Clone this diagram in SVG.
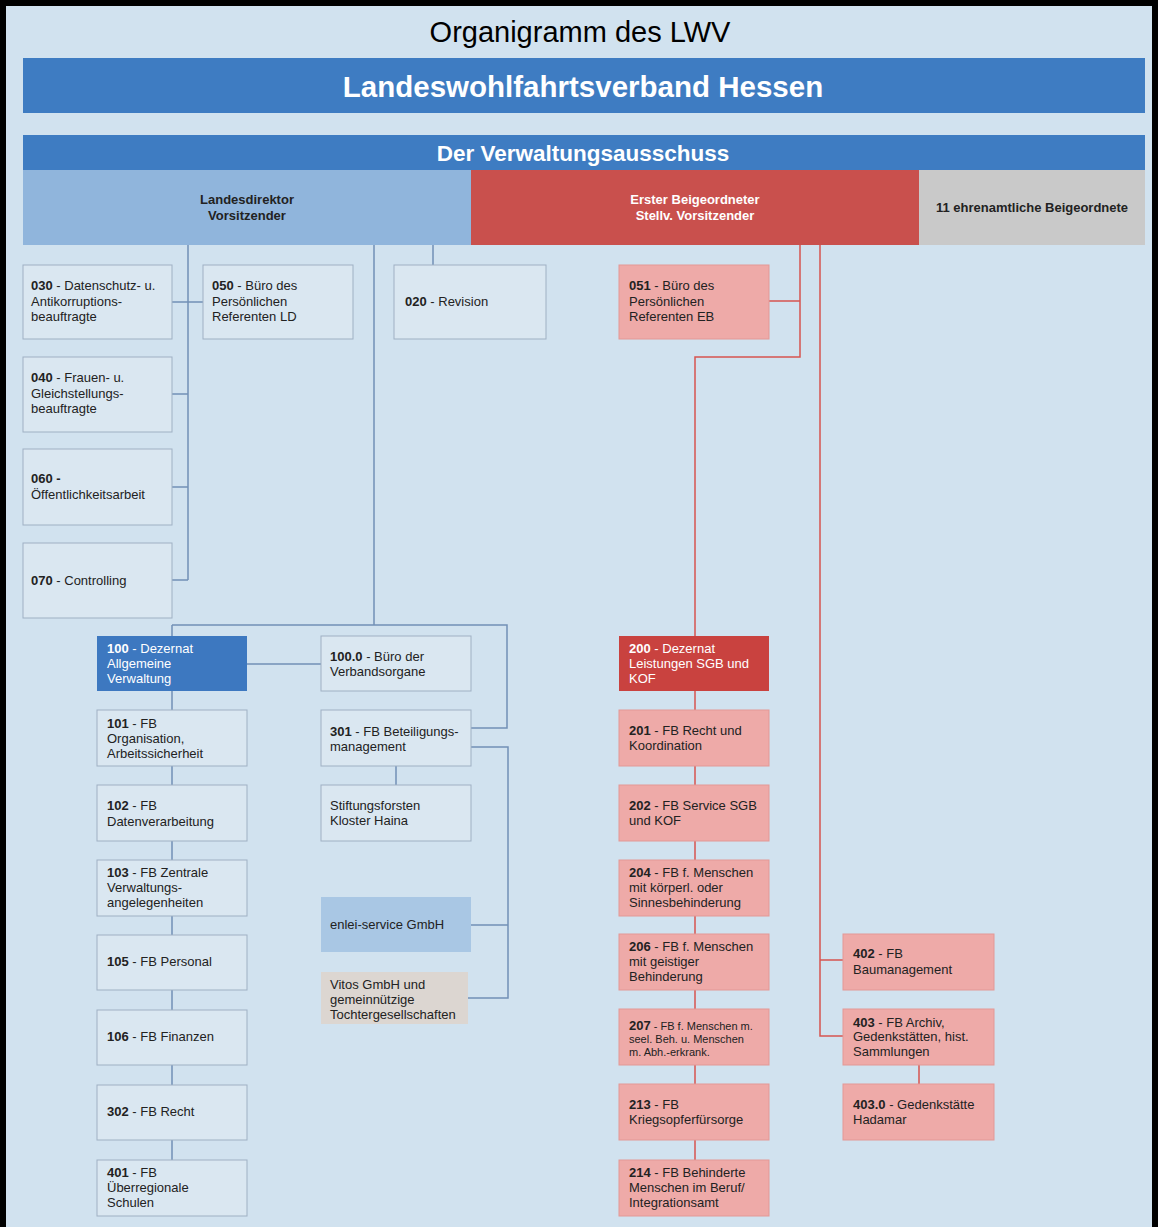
<svg xmlns="http://www.w3.org/2000/svg" width="1158" height="1227" viewBox="0 0 1158 1227">
<style>
.box{fill:#dae7f1;stroke:#9fb0c3;stroke-width:1}
.pink{fill:#eeaaa8;stroke:#e39896;stroke-width:1}
.t{font-family:"Liberation Sans",Arial,sans-serif;font-size:13px;fill:#222}
.s{font-size:11px}
.b{font-weight:bold}
.w{fill:#fff}
.cb{stroke:#7290b6;stroke-width:1.5;fill:none}
.cr{stroke:#d65450;stroke-width:1.5;fill:none}
</style>
<rect x="3" y="3" width="1152" height="1240" fill="#d1e2ef" stroke="#000" stroke-width="6"/>
<text x="580" y="42" text-anchor="middle" font-family="Liberation Sans, Arial, sans-serif" font-size="29" fill="#000">Organigramm des LWV</text>

<g id="lwv">
<rect x="23" y="58" width="1122" height="55" fill="#3e7cc2"/>
<text x="583" y="97" text-anchor="middle" font-family="Liberation Sans, Arial, sans-serif" font-size="29.5" font-weight="bold" fill="#fff">Landeswohlfahrtsverband Hessen</text>
</g>
<g id="va">
<rect x="23" y="135" width="1122" height="35" fill="#3e7cc2"/>
<text x="583" y="161" text-anchor="middle" font-family="Liberation Sans, Arial, sans-serif" font-size="22.5" font-weight="bold" fill="#fff">Der Verwaltungsausschuss</text>
</g>
<g id="ld">
<rect x="23" y="170" width="448" height="75" fill="#90b5dc"/>
<text class="t b" text-anchor="middle"><tspan x="247" y="204">Landesdirektor</tspan><tspan x="247" y="220">Vorsitzender</tspan></text>
</g>
<g id="eb">
<rect x="471" y="170" width="448" height="75" fill="#c9504d"/>
<text class="t b w" text-anchor="middle"><tspan x="695" y="204">Erster Beigeordneter</tspan><tspan x="695" y="220">Stellv. Vorsitzender</tspan></text>
</g>
<g id="ehr">
<rect x="919" y="170" width="226" height="75" fill="#c9c9c9"/>
<text class="t b" x="1032" y="212" text-anchor="middle" font-size="13.5">11 ehrenamtliche Beigeordnete</text>
</g>

<g id="connectors">
<path class="cb" d="M188,245 V580 M172,302 H203 M172,394 H188 M172,487 H188 M172,580 H188"/>
<path class="cb" d="M374,245 V625 M433,245 V265"/>
<path class="cb" d="M172,625 H507 V728 H471 M172,625 V1160 M247,664 H321 M396,766 V785"/>
<path class="cb" d="M471,747 H508 V998 H468 M471,925 H508"/>
<path class="cr" d="M800,245 V357 H695 V1160 M769,301 H800"/>
<path class="cr" d="M820,245 V1036 H843 M820,960 H843 M919,1065 V1084"/>
</g>

<g id="n030"><rect class="box" x="23" y="265" width="149" height="74"/><text class="t"><tspan x="31" y="290"><tspan class="b">030</tspan> - Datenschutz- u.</tspan><tspan x="31" y="306">Antikorruptions-</tspan><tspan x="31" y="321">beauftragte</tspan></text></g>
<g id="n040"><rect class="box" x="23" y="357" width="149" height="75"/><text class="t"><tspan x="31" y="382"><tspan class="b">040</tspan> - Frauen- u.</tspan><tspan x="31" y="398">Gleichstellungs-</tspan><tspan x="31" y="413">beauftragte</tspan></text></g>
<g id="n060"><rect class="box" x="23" y="449" width="149" height="76"/><text class="t"><tspan x="31" y="483" class="b">060 -</tspan><tspan x="31" y="499">Öffentlichkeitsarbeit</tspan></text></g>
<g id="n070"><rect class="box" x="23" y="543" width="149" height="75"/><text class="t" x="31" y="585"><tspan class="b">070</tspan> - Controlling</text></g>
<g id="n050"><rect class="box" x="203" y="265" width="150" height="74"/><text class="t"><tspan x="212" y="290"><tspan class="b">050</tspan> - Büro des</tspan><tspan x="212" y="306">Persönlichen</tspan><tspan x="212" y="321">Referenten LD</tspan></text></g>
<g id="n020"><rect class="box" x="394" y="265" width="152" height="74"/><text class="t" x="405" y="306"><tspan class="b">020</tspan> - Revision</text></g>
<g id="n051"><rect class="pink" x="619" y="265" width="150" height="74"/><text class="t"><tspan x="629" y="290"><tspan class="b">051</tspan> - Büro des</tspan><tspan x="629" y="306">Persönlichen</tspan><tspan x="629" y="321">Referenten EB</tspan></text></g>

<g id="n100"><rect x="97" y="636" width="150" height="55" fill="#3d78c0"/><text class="t w"><tspan x="107" y="653"><tspan class="b">100</tspan> - Dezernat</tspan><tspan x="107" y="668">Allgemeine</tspan><tspan x="107" y="683">Verwaltung</tspan></text></g>
<g id="n101"><rect class="box" x="97" y="710" width="150" height="56"/><text class="t"><tspan x="107" y="728"><tspan class="b">101</tspan> - FB</tspan><tspan x="107" y="743">Organisation,</tspan><tspan x="107" y="758">Arbeitssicherheit</tspan></text></g>
<g id="n102"><rect class="box" x="97" y="785" width="150" height="56"/><text class="t"><tspan x="107" y="810"><tspan class="b">102</tspan> - FB</tspan><tspan x="107" y="826">Datenverarbeitung</tspan></text></g>
<g id="n103"><rect class="box" x="97" y="860" width="150" height="56"/><text class="t"><tspan x="107" y="877"><tspan class="b">103</tspan> - FB Zentrale</tspan><tspan x="107" y="892">Verwaltungs-</tspan><tspan x="107" y="907">angelegenheiten</tspan></text></g>
<g id="n105"><rect class="box" x="97" y="935" width="150" height="55"/><text class="t" x="107" y="966"><tspan class="b">105</tspan> - FB Personal</text></g>
<g id="n106"><rect class="box" x="97" y="1010" width="150" height="55"/><text class="t" x="107" y="1041"><tspan class="b">106</tspan> - FB Finanzen</text></g>
<g id="n302"><rect class="box" x="97" y="1085" width="150" height="55"/><text class="t" x="107" y="1116"><tspan class="b">302</tspan> - FB Recht</text></g>
<g id="n401"><rect class="box" x="97" y="1160" width="150" height="56"/><text class="t"><tspan x="107" y="1177"><tspan class="b">401</tspan> - FB</tspan><tspan x="107" y="1192">Überregionale</tspan><tspan x="107" y="1207">Schulen</tspan></text></g>

<g id="n1000"><rect class="box" x="321" y="636" width="150" height="55"/><text class="t"><tspan x="330" y="661"><tspan class="b">100.0</tspan> - Büro der</tspan><tspan x="330" y="676">Verbandsorgane</tspan></text></g>
<g id="n301"><rect class="box" x="321" y="710" width="150" height="56"/><text class="t"><tspan x="330" y="736"><tspan class="b">301</tspan> - FB Beteiligungs-</tspan><tspan x="330" y="751">management</tspan></text></g>
<g id="nstift"><rect class="box" x="321" y="785" width="150" height="56"/><text class="t"><tspan x="330" y="810">Stiftungsforsten</tspan><tspan x="330" y="825">Kloster Haina</tspan></text></g>
<g id="nenlei"><rect x="321" y="897" width="150" height="55" fill="#a9c7e4"/><text class="t" x="330" y="929">enlei-service GmbH</text></g>
<g id="nvitos"><rect x="321" y="972" width="147" height="52" fill="#dcd6d1"/><text class="t"><tspan x="330" y="989">Vitos GmbH und</tspan><tspan x="330" y="1004">gemeinnützige</tspan><tspan x="330" y="1019">Tochtergesellschaften</tspan></text></g>

<g id="n200"><rect x="619" y="636" width="150" height="55" fill="#c9423f"/><text class="t w"><tspan x="629" y="653"><tspan class="b">200</tspan> - Dezernat</tspan><tspan x="629" y="668">Leistungen SGB und</tspan><tspan x="629" y="683">KOF</tspan></text></g>
<g id="n201"><rect class="pink" x="619" y="710" width="150" height="56"/><text class="t"><tspan x="629" y="735"><tspan class="b">201</tspan> - FB Recht und</tspan><tspan x="629" y="750">Koordination</tspan></text></g>
<g id="n202"><rect class="pink" x="619" y="785" width="150" height="56"/><text class="t"><tspan x="629" y="810"><tspan class="b">202</tspan> - FB Service SGB</tspan><tspan x="629" y="825">und KOF</tspan></text></g>
<g id="n204"><rect class="pink" x="619" y="860" width="150" height="56"/><text class="t"><tspan x="629" y="877"><tspan class="b">204</tspan> - FB f. Menschen</tspan><tspan x="629" y="892">mit körperl. oder</tspan><tspan x="629" y="907">Sinnesbehinderung</tspan></text></g>
<g id="n206"><rect class="pink" x="619" y="934" width="150" height="56"/><text class="t"><tspan x="629" y="951"><tspan class="b">206</tspan> - FB f. Menschen</tspan><tspan x="629" y="966">mit geistiger</tspan><tspan x="629" y="981">Behinderung</tspan></text></g>
<g id="n207"><rect class="pink" x="619" y="1009" width="150" height="56"/><text class="t"><tspan x="629" y="1030"><tspan class="b">207</tspan><tspan class="s"> - FB f. Menschen m.</tspan></tspan><tspan x="629" y="1043" class="s">seel. Beh. u. Menschen</tspan><tspan x="629" y="1056" class="s">m. Abh.-erkrank.</tspan></text></g>
<g id="n213"><rect class="pink" x="619" y="1084" width="150" height="56"/><text class="t"><tspan x="629" y="1109"><tspan class="b">213</tspan> - FB</tspan><tspan x="629" y="1124">Kriegsopferfürsorge</tspan></text></g>
<g id="n214"><rect class="pink" x="619" y="1160" width="150" height="56"/><text class="t"><tspan x="629" y="1177"><tspan class="b">214</tspan> - FB Behinderte</tspan><tspan x="629" y="1192">Menschen im Beruf/</tspan><tspan x="629" y="1207">Integrationsamt</tspan></text></g>

<g id="n402"><rect class="pink" x="843" y="934" width="151" height="56"/><text class="t"><tspan x="853" y="958"><tspan class="b">402</tspan> - FB</tspan><tspan x="853" y="974">Baumanagement</tspan></text></g>
<g id="n403"><rect class="pink" x="843" y="1009" width="151" height="56"/><text class="t"><tspan x="853" y="1027"><tspan class="b">403</tspan> - FB Archiv,</tspan><tspan x="853" y="1041">Gedenkstätten, hist.</tspan><tspan x="853" y="1056">Sammlungen</tspan></text></g>
<g id="n4030"><rect class="pink" x="843" y="1084" width="151" height="56"/><text class="t"><tspan x="853" y="1109"><tspan class="b">403.0</tspan> - Gedenkstätte</tspan><tspan x="853" y="1124">Hadamar</tspan></text></g>
</svg>
